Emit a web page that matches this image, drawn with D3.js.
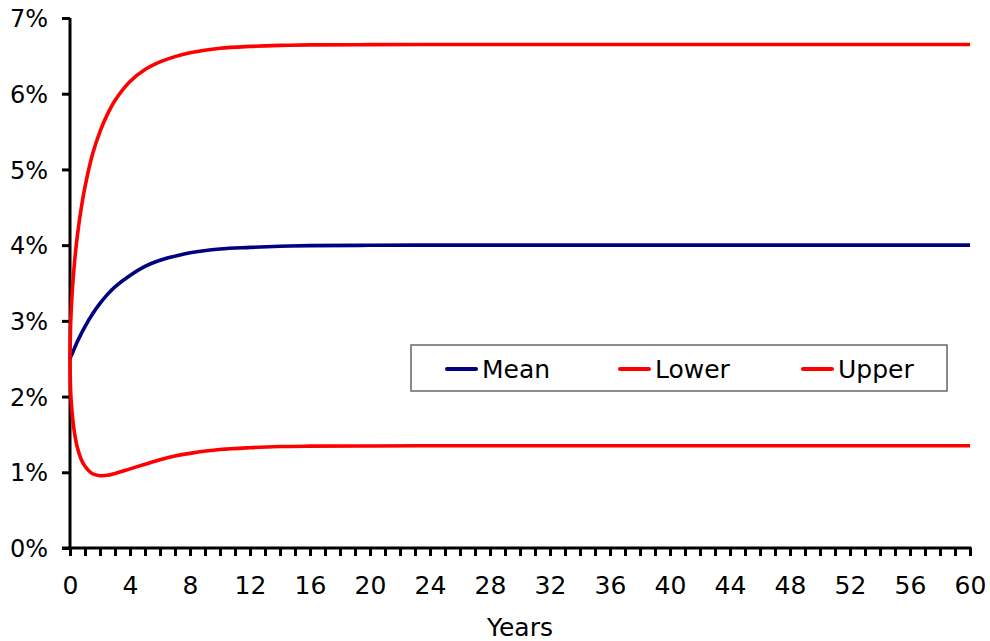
<!DOCTYPE html>
<html>
<head>
<meta charset="utf-8">
<script src="https://cdnjs.cloudflare.com/ajax/libs/d3/7.8.5/d3.min.js"></script>
<style>
  html, body { margin: 0; padding: 0; background: #fff; }
  svg { display: block; }
  text { font-family: "DejaVu Sans", Verdana, sans-serif; fill: #000; }
</style>
</head>
<body>
<svg id="chart" width="990" height="641"></svg>
<script>
// ---- data ----
const years      = [0, 0.05, 0.15, 0.3, 0.5, 0.75, 1, 1.5, 2, 2.5, 3, 4, 5, 6, 7, 8, 10, 12, 14, 16, 20, 25, 30, 40, 50, 60];
const meanVals   = [2.50, 2.525, 2.57, 2.64, 2.73, 2.83, 2.925, 3.09, 3.23, 3.35, 3.45, 3.60, 3.72, 3.80, 3.855, 3.90, 3.95, 3.97, 3.985, 3.993, 3.998, 4.00, 4.00, 4.00, 4.00, 4.00];
const lowerVals  = [2.50, 2.04, 1.76, 1.52, 1.32, 1.17, 1.08, 0.98, 0.955, 0.96, 0.985, 1.045, 1.105, 1.165, 1.215, 1.25, 1.30, 1.325, 1.34, 1.345, 1.348, 1.35, 1.35, 1.35, 1.35, 1.35];
const upperVals  = [2.50, 3.00, 3.39, 3.77, 4.14, 4.49, 4.77, 5.20, 5.50, 5.73, 5.91, 6.16, 6.32, 6.42, 6.49, 6.54, 6.60, 6.625, 6.638, 6.645, 6.648, 6.65, 6.65, 6.65, 6.65, 6.65];
const seriesNames = ["Mean", "Lower", "Upper"];
const seriesColors = ["#000080", "#ff0000", "#ff0000"];
const yTickVals = [0, 1, 2, 3, 4, 5, 6, 7];
const xLabelVals = d3.range(0, 61, 4);
const xMinorVals = d3.range(0, 61, 1);
const xTitle = "Years";

// ---- layout ----
const svg = d3.select("#chart");
const pLeft = 70, pRight = 970, pTop = 18, pBottom = 548;
const x = d3.scaleLinear().domain([0, 60]).range([pLeft, pRight]);
const y = d3.scaleLinear().domain([0, 7]).range([pBottom, pTop]);

// axes
const yAxis = d3.axisLeft(y).tickValues(yTickVals).tickFormat(d => d + "%").tickSize(8).tickPadding(14);
const gy = svg.append("g").attr("transform", `translate(${pLeft},0)`).call(yAxis);
gy.select(".domain").attr("stroke", "#000").attr("stroke-width", 3).attr("d", `M0,${pTop}V${pBottom}`);
gy.selectAll(".tick line").attr("stroke", "#000").attr("stroke-width", 3);
gy.selectAll(".tick text").style("font-size", "24px").style("font-family", "DejaVu Sans, Verdana, sans-serif").attr("dy", "0.36em");

const xAxis = d3.axisBottom(x).tickValues(xMinorVals).tickFormat(d => (xLabelVals.includes(d) ? d : "")).tickSize(8).tickPadding(14);
const gx = svg.append("g").attr("transform", `translate(0,${pBottom})`).call(xAxis);
gx.select(".domain").attr("stroke", "#000").attr("stroke-width", 3).attr("d", `M${pLeft - 8},0H${pRight + 1.5}`);
gx.selectAll(".tick line").attr("stroke", "#000").attr("stroke-width", 3);
gx.selectAll(".tick text").style("font-size", "25px").style("font-family", "DejaVu Sans, Verdana, sans-serif").attr("dy", "0.95em");

svg.append("text").attr("x", (pLeft + pRight) / 2).attr("y", 636)
  .attr("text-anchor", "middle").style("font-size", "25px").text(xTitle);

// lines
const allSeries = [meanVals, lowerVals, upperVals];
const line = d3.line().x((d, i) => x(years[i])).y(d => y(d)).curve(d3.curveCatmullRom.alpha(0.5));
allSeries.forEach((vals, k) => {
  svg.append("path").datum(vals)
    .attr("fill", "none").attr("stroke", seriesColors[k]).attr("stroke-width", 3.6)
    .attr("stroke-linejoin", "round").attr("d", line);
});

// legend
const lg = svg.append("g");
lg.append("rect").attr("x", 411).attr("y", 345).attr("width", 536).attr("height", 46)
  .attr("fill", "#fff").attr("stroke", "#666").attr("stroke-width", 1.5);
const legendX = [447, 620, 803];
seriesNames.forEach((name, k) => {
  lg.append("line").attr("x1", legendX[k]).attr("x2", legendX[k] + 29).attr("y1", 369).attr("y2", 369)
    .attr("stroke", seriesColors[k]).attr("stroke-width", 4).attr("stroke-linecap", "round");
  lg.append("text").attr("x", legendX[k] + 35).attr("y", 378).style("font-size", "25px").text(name);
});
</script>
</body>
</html>
